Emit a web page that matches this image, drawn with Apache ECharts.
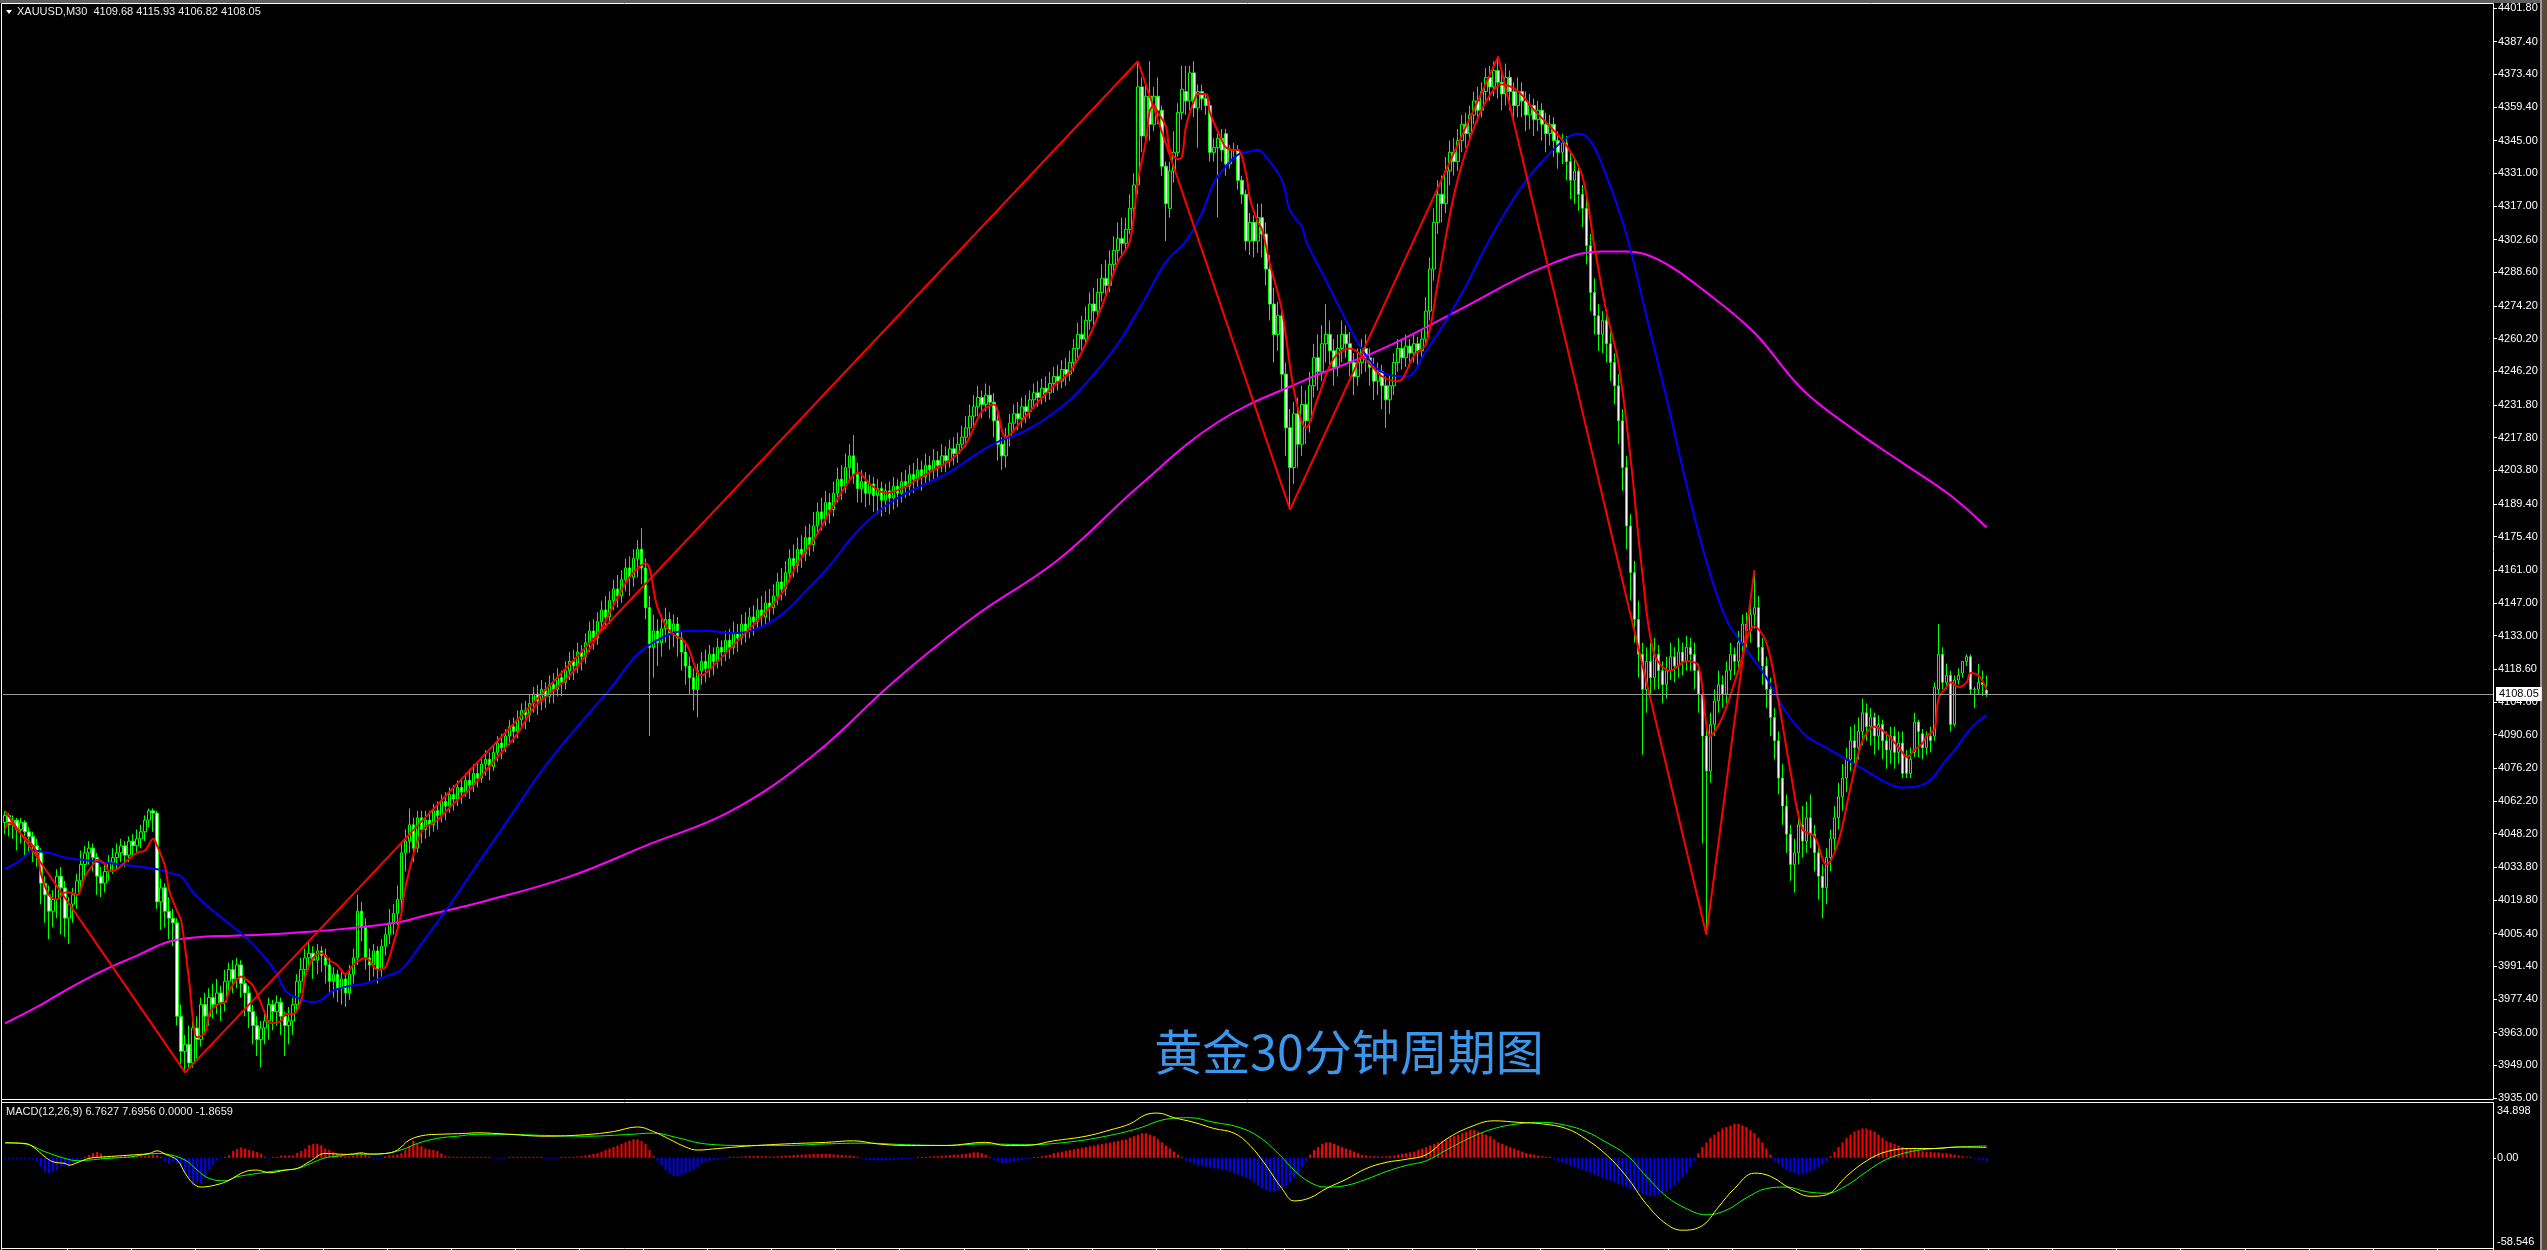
<!DOCTYPE html>
<html><head><meta charset="utf-8">
<script src="https://cdn.jsdelivr.net/npm/echarts@6/dist/echarts.min.js"></script>
<style>html,body{margin:0;padding:0;background:#000;overflow:hidden}#c{width:2547px;height:1250px}</style>
</head><body><div id="c"></div>
<script>
// [open, close, low, high] per M30 bar
const candles = [
/*0*/[4053,4056,4048,4058],[4056,4052,4047,4057],[4052,4054,4046,4056],[4054,4050,4041,4055],[4050,4053,4044,4055],
/*5*/[4053,4049,4038,4054],[4049,4047,4040,4051],[4047,4043,4036,4049],[4043,4040,4034,4046],[4040,4027,4018,4042],
/*10*/[4027,4022,4010,4030],[4022,4015,4003,4026],[4015,4020,4008,4024],[4020,4030,4012,4033],[4030,4025,4005,4034],
/*15*/[4025,4012,4004,4028],[4012,4018,4001,4021],[4018,4022,4010,4025],[4022,4028,4016,4031],[4028,4035,4024,4041],
/*20*/[4035,4040,4030,4043],[4040,4042,4035,4045],[4042,4038,4032,4044],[4038,4030,4022,4040],[4030,4027,4021,4034],
/*25*/[4027,4032,4023,4036],[4032,4036,4028,4039],[4036,4038,4031,4042],[4038,4040,4033,4044],[4040,4043,4036,4046],
/*30*/[4043,4039,4034,4045],[4039,4045,4036,4047],[4045,4043,4039,4048],[4043,4046,4040,4050],[4046,4049,4042,4052],
/*35*/[4049,4054,4045,4056],[4054,4058,4051,4059],[4058,4057,4049,4059],[4057,4019,4016,4058],[4019,4025,4007,4029],
/*40*/[4025,4015,4008,4027],[4015,4012,4003,4021],[4012,4010,4000,4016],[4010,3970,3966,4012],[3970,3955,3948,3975],
/*45*/[3955,3958,3946,3962],[3958,3950,3947,3966],[3950,3965,3948,3968],[3965,3960,3952,3970],[3960,3975,3957,3978],
/*50*/[3975,3970,3962,3980],[3970,3978,3966,3982],[3978,3975,3969,3984],[3975,3980,3971,3986],[3980,3976,3968,3983],
/*55*/[3976,3985,3972,3990],[3985,3990,3980,3993],[3990,3986,3980,3994],[3986,3992,3982,3995],[3992,3984,3978,3994],
/*60*/[3984,3980,3970,3987],[3980,3972,3965,3983],[3972,3966,3958,3975],[3966,3960,3953,3970],[3960,3965,3948,3968],
/*65*/[3965,3968,3958,3972],[3968,3975,3960,3978],[3975,3972,3964,3977],[3972,3976,3966,3979],[3976,3970,3962,3978],
/*70*/[3970,3966,3953,3972],[3966,3968,3958,3974],[3968,3975,3962,3978],[3975,3985,3972,3988],[3985,3990,3980,3995],
/*75*/[3990,3995,3986,3999],[3995,3997,3990,4002],[3997,3994,3986,4000],[3994,3998,3988,4001],[3998,3996,3989,4000],
/*80*/[3996,3992,3984,3999],[3992,3985,3980,3995],[3985,3988,3978,3991],[3988,3982,3976,3990],[3982,3986,3975,3989],
/*85*/[3986,3980,3974,3988],[3980,3988,3977,3992],[3988,3995,3984,3999],[3995,4015,3992,4022],[4015,4008,4002,4019],
/*90*/[4008,3995,3990,4012],[3995,3992,3985,3999],[3992,3998,3987,4001],[3998,3990,3984,4000],[3990,4000,3987,4003],
/*95*/[4000,4005,3996,4008],[4005,4010,4001,4016],[4010,4014,4005,4018],[4014,4020,4009,4026],[4020,4040,4016,4044],
/*100*/[4040,4045,4032,4050],[4045,4052,4040,4059],[4052,4042,4036,4055],[4042,4055,4040,4058],[4055,4050,4044,4058],
/*105*/[4050,4054,4046,4058],[4054,4052,4047,4058],[4052,4058,4049,4061],[4058,4056,4050,4062],[4056,4062,4053,4065],
/*110*/[4062,4060,4054,4066],[4060,4065,4057,4068],[4065,4063,4058,4069],[4063,4068,4060,4071],[4068,4066,4061,4072],
/*115*/[4066,4071,4064,4074],[4071,4069,4063,4076],[4069,4074,4066,4078],[4074,4072,4068,4079],[4072,4078,4070,4081],
/*120*/[4078,4080,4073,4084],[4080,4077,4071,4083],[4077,4083,4075,4086],[4083,4087,4079,4090],[4087,4085,4080,4091],
/*125*/[4085,4090,4083,4093],[4090,4094,4086,4097],[4094,4092,4087,4098],[4092,4097,4089,4101],[4097,4101,4094,4104],
/*130*/[4101,4099,4093,4105],[4099,4104,4096,4108],[4104,4108,4100,4111],[4108,4105,4099,4112],[4105,4110,4101,4114],
/*135*/[4110,4107,4102,4113],[4107,4112,4104,4116],[4112,4110,4104,4117],[4110,4115,4107,4119],[4115,4113,4107,4118],
/*140*/[4113,4118,4110,4122],[4118,4122,4114,4126],[4122,4120,4114,4127],[4120,4126,4117,4130],[4126,4124,4118,4129],
/*145*/[4124,4130,4121,4134],[4130,4135,4126,4139],[4135,4132,4127,4140],[4132,4139,4129,4143],[4139,4144,4135,4148],
/*150*/[4144,4141,4136,4150],[4141,4148,4138,4152],[4148,4153,4144,4157],[4153,4150,4145,4159],[4150,4157,4147,4161],
/*155*/[4157,4162,4152,4166],[4162,4158,4150,4167],[4158,4166,4154,4170],[4166,4170,4158,4174],[4170,4162,4155,4179],
/*160*/[4162,4145,4140,4166],[4145,4128,4090,4150],[4128,4135,4115,4142],[4135,4130,4120,4140],[4130,4136,4124,4142],
/*165*/[4136,4140,4130,4145],[4140,4134,4127,4143],[4134,4138,4128,4142],[4138,4132,4124,4141],[4132,4126,4118,4135],
/*170*/[4126,4120,4112,4130],[4120,4115,4108,4124],[4115,4110,4101,4119],[4110,4118,4098,4121],[4118,4122,4112,4126],
/*175*/[4122,4119,4113,4127],[4119,4125,4115,4129],[4125,4122,4116,4128],[4122,4128,4119,4132],[4128,4126,4120,4131],
/*180*/[4126,4131,4122,4135],[4131,4128,4123,4136],[4128,4134,4125,4139],[4134,4132,4126,4138],[4132,4138,4129,4142],
/*185*/[4138,4135,4130,4143],[4135,4141,4132,4145],[4141,4139,4133,4146],[4139,4144,4136,4149],[4144,4141,4137,4150],
/*190*/[4141,4147,4138,4152],[4147,4145,4139,4153],[4145,4150,4142,4155],[4150,4156,4146,4160],[4156,4153,4148,4162],
/*195*/[4153,4160,4150,4165],[4160,4166,4156,4170],[4166,4163,4158,4172],[4163,4170,4160,4175],[4170,4168,4162,4176],
/*200*/[4168,4175,4165,4180],[4175,4172,4167,4181],[4172,4180,4169,4186],[4180,4186,4176,4190],[4186,4183,4178,4192],
/*205*/[4183,4190,4180,4195],[4190,4187,4181,4194],[4187,4194,4184,4199],[4194,4200,4190,4205],[4200,4197,4191,4206],
/*210*/[4197,4205,4194,4211],[4205,4210,4200,4215],[4210,4202,4198,4219],[4202,4196,4190,4207],[4196,4199,4190,4204],
/*215*/[4199,4194,4188,4203],[4194,4198,4189,4202],[4198,4193,4186,4201],[4193,4196,4185,4200],[4196,4191,4184,4199],
/*220*/[4191,4195,4186,4198],[4195,4192,4185,4199],[4192,4197,4187,4201],[4197,4194,4188,4200],[4194,4199,4190,4203],
/*225*/[4199,4197,4192,4204],[4197,4202,4193,4206],[4202,4200,4194,4207],[4200,4204,4196,4209],[4204,4201,4195,4208],
/*230*/[4201,4206,4198,4211],[4206,4204,4199,4210],[4204,4208,4200,4213],[4208,4206,4201,4212],[4206,4210,4203,4215],
/*235*/[4210,4208,4203,4214],[4208,4213,4205,4217],[4213,4211,4206,4218],[4211,4215,4207,4220],[4215,4218,4212,4223],
/*240*/[4218,4222,4214,4227],[4222,4227,4218,4232],[4227,4231,4223,4236],[4231,4235,4227,4240],[4235,4232,4226,4238],
/*245*/[4232,4236,4229,4241],[4236,4233,4226,4240],[4233,4225,4218,4237],[4225,4215,4208,4228],[4215,4210,4204,4218],
/*250*/[4210,4218,4205,4222],[4218,4224,4214,4228],[4224,4228,4220,4232],[4228,4226,4221,4233],[4226,4231,4222,4235],
/*255*/[4231,4229,4224,4236],[4229,4234,4226,4238],[4234,4237,4230,4241],[4237,4235,4231,4242],[4235,4239,4232,4243],
/*260*/[4239,4237,4233,4244],[4237,4241,4234,4246],[4241,4244,4237,4248],[4244,4242,4238,4249],[4242,4247,4239,4251],
/*265*/[4247,4245,4240,4252],[4245,4250,4242,4255],[4250,4256,4246,4260],[4256,4262,4252,4267],[4262,4260,4255,4270],
/*270*/[4260,4268,4257,4274],[4268,4275,4264,4280],[4275,4272,4266,4282],[4272,4280,4269,4286],[4280,4286,4276,4292],
/*275*/[4286,4283,4278,4294],[4283,4292,4280,4298],[4292,4298,4288,4304],[4298,4303,4292,4310],[4303,4301,4295,4312],
/*280*/[4301,4307,4298,4312],[4307,4316,4305,4322],[4316,4326,4312,4331],[4326,4368,4322,4379],[4368,4347,4340,4372],
/*285*/[4347,4364,4343,4369],[4364,4352,4345,4379],[4352,4364,4349,4368],[4364,4358,4352,4372],[4358,4334,4330,4360],
/*290*/[4334,4318,4302,4336],[4316,4332,4312,4336],[4332,4340,4327,4349],[4340,4357,4338,4361],[4357,4367,4354,4377],
/*295*/[4366,4362,4356,4377],[4362,4374,4358,4377],[4374,4359,4355,4379],[4359,4366,4342,4369],[4366,4363,4358,4369],
/*300*/[4363,4360,4356,4365],[4360,4340,4336,4362],[4340,4342,4336,4346],[4342,4346,4312,4348],[4346,4341,4336,4350],
/*305*/[4348,4335,4330,4350],[4335,4341,4333,4343],[4341,4341,4338,4344],[4341,4328,4324,4343],[4328,4322,4318,4330],
/*310*/[4322,4302,4298,4324],[4302,4310,4296,4314],[4310,4302,4295,4313],[4302,4312,4297,4318],[4312,4305,4295,4318],
/*315*/[4305,4290,4283,4310],[4290,4275,4268,4296],[4275,4262,4250,4282],[4262,4270,4255,4276],[4270,4245,4238,4274],
/*320*/[4245,4222,4210,4250],[4222,4205,4187,4230],[4205,4228,4198,4233],[4228,4215,4205,4235],[4215,4232,4210,4240],
/*325*/[4232,4225,4215,4238],[4225,4240,4220,4246],[4240,4252,4235,4258],[4252,4246,4238,4262],[4246,4258,4242,4266],
/*330*/[4258,4262,4250,4275],[4262,4255,4248,4268],[4255,4248,4240,4260],[4248,4256,4244,4262],[4256,4262,4250,4268],
/*335*/[4262,4258,4252,4266],[4258,4250,4244,4263],[4250,4244,4236,4254],[4244,4250,4240,4256],[4250,4256,4245,4260],
/*340*/[4256,4252,4246,4262],[4252,4248,4240,4256],[4248,4242,4234,4252],[4242,4246,4236,4250],[4246,4240,4230,4249],
/*345*/[4240,4234,4222,4244],[4234,4240,4228,4245],[4240,4250,4236,4254],[4250,4256,4246,4260],[4256,4252,4247,4260],
/*350*/[4252,4257,4248,4262],[4257,4254,4248,4260],[4254,4258,4250,4262],[4258,4255,4249,4261],[4255,4260,4251,4264],
/*355*/[4260,4272,4257,4278],[4272,4290,4268,4295],[4290,4310,4285,4316],[4310,4322,4305,4328],[4322,4318,4310,4330],
/*360*/[4318,4332,4314,4338],[4332,4340,4326,4345],[4340,4336,4330,4346],[4336,4345,4332,4350],[4345,4352,4340,4356],
/*365*/[4352,4348,4342,4357],[4348,4356,4345,4360],[4356,4362,4352,4366],[4362,4358,4353,4368],[4358,4366,4355,4370],
/*370*/[4366,4372,4362,4376],[4372,4368,4362,4377],[4368,4375,4364,4379],[4375,4370,4363,4381],[4370,4365,4358,4376],
/*375*/[4365,4372,4360,4378],[4372,4366,4358,4375],[4366,4360,4353,4370],[4360,4366,4355,4372],[4366,4362,4355,4370],
/*380*/[4362,4356,4349,4366],[4356,4360,4350,4365],[4360,4354,4347,4363],[4354,4358,4349,4362],[4358,4352,4345,4361],
/*385*/[4352,4348,4340,4357],[4348,4352,4343,4356],[4352,4345,4338,4355],[4345,4340,4333,4349],[4340,4344,4335,4348],
/*390*/[4344,4336,4328,4347],[4336,4328,4320,4340],[4328,4332,4318,4338],[4332,4322,4315,4335],[4322,4316,4308,4326],
/*395*/[4316,4300,4292,4320],[4300,4280,4272,4305],[4280,4270,4262,4286],[4270,4262,4255,4275],[4262,4268,4254,4272],
/*400*/[4268,4258,4250,4271],[4258,4250,4242,4263],[4250,4240,4232,4254],[4240,4225,4215,4245],[4225,4205,4195,4230],
/*405*/[4205,4180,4170,4210],[4180,4160,4148,4185],[4160,4140,4130,4165],[4140,4125,4115,4148],[4125,4110,4082,4130],
/*410*/[4110,4122,4100,4128],[4122,4115,4108,4130],[4115,4125,4110,4132],[4125,4118,4110,4129],[4118,4112,4104,4122],
/*415*/[4112,4118,4106,4124],[4118,4124,4114,4130],[4124,4120,4113,4128],[4120,4126,4115,4132],[4126,4122,4116,4130],
/*420*/[4122,4128,4118,4133],[4128,4125,4118,4132],[4125,4118,4110,4130],[4118,4108,4100,4121],[4108,4090,4044,4112],
/*425*/[4090,4075,4005,4095],[4075,4095,4070,4100],[4095,4105,4090,4110],[4105,4112,4100,4118],[4112,4108,4102,4116],
/*430*/[4108,4118,4104,4122],[4118,4125,4114,4130],[4125,4122,4116,4128],[4122,4130,4118,4135],[4130,4138,4126,4142],
/*435*/[4138,4135,4128,4143],[4135,4142,4130,4148],[4142,4145,4136,4161],[4145,4128,4122,4150],[4128,4120,4112,4132],
/*440*/[4120,4110,4102,4124],[4110,4098,4090,4115],[4098,4088,4080,4102],[4088,4072,4065,4092],[4072,4060,4052,4078],
/*445*/[4060,4048,4040,4065],[4048,4035,4028,4052],[4035,4040,4023,4046],[4040,4052,4035,4058],[4052,4045,4038,4060],
/*450*/[4045,4055,4040,4062],[4055,4048,4042,4065],[4048,4040,4032,4052],[4040,4030,4020,4044],[4030,4025,4012,4035],
/*455*/[4025,4038,4018,4042],[4038,4046,4032,4050],[4046,4055,4040,4060],[4055,4064,4050,4070],[4064,4072,4058,4078],
/*460*/[4072,4080,4066,4085],[4080,4088,4075,4094],[4088,4085,4078,4095],[4085,4092,4080,4098],[4092,4100,4086,4106],
/*465*/[4100,4094,4088,4104],[4094,4098,4086,4102],[4098,4090,4082,4100],[4090,4095,4084,4099],[4095,4088,4080,4097],
/*470*/[4088,4084,4076,4092],[4084,4090,4078,4094],[4090,4083,4076,4094],[4083,4087,4078,4092],[4087,4074,4072,4092],
/*475*/[4081,4074,4072,4084],[4074,4080,4072,4085],[4083,4096,4081,4100],[4096,4092,4081,4097],[4091,4085,4080,4093],
/*480*/[4085,4090,4082,4092],[4090,4088,4083,4094],[4090,4111,4088,4113],[4110,4125,4108,4138],[4125,4113,4110,4128],
/*485*/[4113,4116,4110,4121],[4116,4095,4092,4118],[4095,4114,4094,4116],[4114,4116,4112,4119],[4117,4122,4115,4122],
/*490*/[4122,4124,4120,4125],[4124,4110,4108,4125],[4110,4110,4102,4111],[4110,4113,4108,4121],[4113,4112,4107,4118],
/*495*/[4109.68,4108.05,4106.82,4115.93]
];
// [bar, value] readings of the indicator lines
const fastMA = [[0,4050],[1,4053],[4,4048],[6,4045],[8,4040],[9,4031],[11,4022],[13,4020],[15,4023],[16,4023],[18,4022],[20,4030],[22,4035],[23,4037],[25,4035],[26,4032],[28,4033],[30,4036],[33,4040],[35,4041],[37,4046],[38,4043],[40,4034],[41,4024],[43,4015],[44,4011],[46,3985],[47,3968],[48,3961],[50,3963],[51,3971],[53,3975],[55,3976],[56,3981],[59,3987],[60,3986],[62,3983],[65,3971],[66,3967],[69,3968],[70,3971],[72,3971],[74,3977],[75,3987],[77,3995],[79,3997],[81,3994],[83,3992],[85,3988],[87,3992],[90,3995],[91,3994],[93,3990],[95,3991],[97,4001],[99,4014],[100,4025],[104,4049],[108,4054],[112,4061],[116,4067],[120,4075],[124,4083],[128,4091],[132,4102],[136,4108],[140,4114],[144,4122],[148,4133],[152,4146],[156,4158],[160,4164],[163,4145],[166,4135],[170,4130],[174,4116],[178,4122],[182,4129],[186,4136],[190,4143],[194,4151],[198,4164],[202,4174],[206,4186],[210,4197],[213,4203],[216,4198],[220,4194],[224,4196],[228,4200],[232,4204],[236,4208],[240,4215],[244,4229],[247,4232],[250,4218],[254,4225],[258,4233],[262,4240],[266,4246],[270,4258],[274,4274],[278,4293],[281,4302],[283,4328],[285,4345],[286,4358],[287,4360],[288,4357],[290,4351],[291,4341],[293,4337],[294,4338],[295,4351],[297,4362],[298,4365],[300,4365],[301,4357],[304,4345],[305,4342],[307,4341],[308,4341],[310,4331],[311,4320],[313,4310],[314,4307],[316,4292],[319,4272],[322,4238],[325,4222],[328,4235],[332,4252],[336,4256],[340,4251],[344,4244],[348,4242],[352,4253],[355,4258],[358,4285],[362,4322],[366,4346],[370,4362],[374,4369],[378,4366],[382,4358],[386,4351],[390,4343],[394,4330],[397,4300],[400,4272],[403,4250],[406,4210],[409,4160],[412,4125],[416,4118],[420,4122],[423,4120],[426,4090],[429,4098],[433,4118],[437,4137],[440,4130],[443,4105],[446,4075],[449,4050],[452,4047],[455,4035],[458,4045],[461,4068],[464,4088],[467,4094],[470,4091],[474,4083],[475,4081],[477,4084],[479,4087],[480,4090],[482,4093],[483,4106],[485,4111],[486,4113],[488,4111],[490,4113],[491,4117],[493,4116],[495,4110]];
const midMA = [[0,4033],[4,4037],[7,4041],[11,4040],[15,4038],[19,4037],[24,4036],[29,4035],[34,4034],[38,4033],[42,4031],[44,4030],[47,4023],[50,4018],[55,4011],[60,4004],[64,3997],[68,3988],[70,3981],[73,3978],[77,3976],[79,3977],[82,3981],[86,3983],[90,3984],[95,3987],[99,3990],[104,4001],[110,4015],[116,4030],[122,4045],[128,4060],[134,4075],[140,4088],[146,4100],[152,4112],[158,4125],[164,4132],[170,4135],[176,4135],[182,4134],[188,4136],[194,4142],[200,4152],[206,4163],[212,4176],[218,4186],[224,4193],[230,4198],[236,4203],[242,4210],[248,4216],[254,4220],[260,4226],[266,4234],[272,4245],[278,4258],[284,4275],[290,4293],[295,4302],[299,4314],[302,4327],[305,4334],[308,4339],[310,4340],[313,4341],[315,4338],[319,4328],[321,4315],[324,4308],[325,4302],[330,4285],[335,4268],[340,4253],[345,4245],[350,4244],[355,4255],[360,4268],[365,4283],[370,4300],[375,4315],[380,4328],[385,4338],[390,4346],[393,4348],[396,4345],[400,4330],[405,4305],[410,4270],[415,4235],[420,4198],[425,4165],[430,4140],[435,4127],[440,4115],[445,4100],[450,4090],[455,4085],[460,4080],[465,4075],[470,4070],[474,4068],[480,4070],[485,4080],[487,4084],[490,4091],[492,4095],[495,4099]];
const slowMA = [[0,3967],[8,3974],[16,3982],[25,3990],[33,3996],[41,4002],[49,4004],[57,4004.5],[65,4005],[74,4006],[82,4007],[90,4008.4],[99,4010.5],[104,4012.7],[120,4019.4],[141,4029.8],[161,4043.7],[181,4057.6],[202,4081.9],[222,4113.3],[242,4141],[263,4165.4],[283,4196.7],[303,4224.5],[324,4241.9],[344,4255.8],[364,4273.2],[384,4290.6],[399,4297.5],[405,4297.5],[413,4294],[425,4280],[437,4262.7],[449,4238.4],[462,4221],[474,4207],[486,4193],[495,4179.3]];
const zigzag = [[0,4058],[45,3946],[283,4379],[321,4187],[373,4381],[425,4005],[437,4161]];
const macdLine = [[0,9.7],[5,9.3],[7,7.1],[10,0.6],[12,-2.6],[15,-3.7],[16,-4.8],[18,-3.2],[21,-0.4],[25,0.6],[31,1.7],[36,2.8],[38,4.5],[40,2.4],[43,-1.5],[45,-10],[47,-16.7],[49,-19],[51,-18.5],[54,-16.7],[56,-14.5],[60,-9],[63,-8],[66,-9.7],[70,-8],[73,-6.9],[76,-2.6],[80,2.8],[83,2.4],[86,2.2],[89,3.2],[91,2.4],[95,2.8],[98,5],[101,11.5],[105,14.7],[108,15.2],[115,15.8],[118,16.2],[125,15.4],[135,14],[145,15],[152,17],[158,20],[162,17],[166,12],[170,7],[173,5],[178,6],[185,7.5],[195,9],[205,10],[212,11],[218,9],[225,8],[235,8],[245,10],[250,8],[255,8],[262,11],[270,14],[276,18],[281,22],[285,28],[288,29],[292,26],[297,23],[302,19],[307,16],[311,8],[315,-5],[319,-20],[322,-28],[326,-26],[330,-20],[335,-14],[340,-7],[345,-3],[350,-1],[355,2],[360,12],[366,20],[372,24],[378,23],[384,22],[390,19],[395,12],[400,2],[405,-12],[410,-30],[415,-43],[419,-47],[424,-44],[428,-32],[432,-20],[437,-10],[441,-12],[446,-20],[451,-25],[455,-24],[460,-12],[465,-2],[470,4],[476,6],[482,6],[488,7],[495,6.7627]];
const signalLine = [[0,9.7],[5,9],[10,3.9],[15,-0.4],[18,-1.9],[21,-1.5],[25,-0.5],[31,0.5],[38,2.8],[40,2.5],[45,-1.5],[48,-8],[51,-13.4],[55,-14.9],[58,-12.3],[63,-10.2],[68,-8.4],[73,-7],[76,-4.1],[80,0],[83,1],[87,2.4],[91,2.4],[95,2.8],[100,6],[103,9.3],[108,12.6],[113,14],[118,15.2],[125,15.2],[135,14.5],[145,14],[155,15],[162,16],[168,13],[175,9],[185,8],[195,8],[205,9],[215,9.5],[225,8.5],[235,8],[245,9],[255,8.5],[265,10],[275,14],[283,19],[290,25],[296,26],[302,23],[308,20],[313,14],[318,3],[322,-8],[326,-16],[330,-19],[335,-18],[340,-14],[345,-9],[350,-5],[355,-2],[360,5],[366,13],[372,19],[378,22],[384,23],[390,21],[395,17],[400,10],[405,2],[410,-12],[415,-25],[420,-33],[425,-37],[430,-34],[435,-26],[440,-20],[445,-19],[450,-22],[455,-23],[460,-18],[465,-9],[470,-1],[476,4],[482,6],[488,7],[495,7.6956]];
const histogram = [
-0.5,-0.5,-0.5,-0.5,-0.5,-0.5,-0.5,-0.5,
-2.6,-5.8,-9,-10,-9,-8,-5.4,-5,-5.8,-3,-2,-0.4,
0.3,1.7,3.2,3.7,2.8,1,
0.6,0.8,0.6,0.8,1,0.8,1,0.8,1,1,
1.5,2,1.5,0.5,
-2.6,-4,-2.6,-4,-5.8,-9,-13.4,-17.7,-15.5,-16.7,-13.4,-8,-4.8,-1.5,
-0.4,0.5,1.7,4.5,5.8,6.7,6,5,4.5,3.7,2.4,
0.3,-0.3,0.3,0.3,1.5,1.5,1.5,1.5,3.2,
4.5,6,8.2,8.9,8.9,8.2,6,5,3.9,2.8,
1.5,1,1,1.5,2.5,3,2.5,1,-0.5,-0.5,-0.3,
1,1.5,1.5,2,3,
5,8,11,9,7.5,6,5.5,5,4.5,2.8,
1,0.8,0.6,0.5,0.5,0.5,0.5,0.4,0.3,0.3,0.2,0.2,
-0.4,-0.4,-0.4,-0.4,
0.3,0.3,0.5,0.5,0.5,0.3,0.3,0.2,0.2,-0.2,-0.2,-0.3,-0.2,0.2,0.3,0.5,0.6,0.8,1,1.5,
2,2.5,3,4,5,6,7,8,9,10,11,12,12,11,9,
5,1,-2,-5,-8,-10,-12,-12,-11,-10,-9,-8,-6,-4,-3,
-2,-1.5,-1,-0.5,-0.3,0.3,0.5,0.5,0.8,1,1,1.2,1.2,1,1,0.8,0.8,1,1.2,1.5,
1.5,1.8,2,2,2.2,2.2,2.5,2.5,2.5,2.5,2.5,2.2,2,1.8,1.5,1.5,1.2,0.5,-0.5,-1,
-1.5,-1.5,-1.8,-1.8,-1.5,-1.5,-1.2,-1,-1,-0.8,-0.5,-0.3,0.3,0.5,0.5,0.8,1,1.2,1.5,1.5,1.8,2,2,2.2,2.5,
3,3.5,3.5,3,2,0.5,-1,-2.5,-3.5,-3.5,-3,-2.5,-2,-1.5,-1,-0.5,0.3,0.5,
1,1.5,2,3,3.5,4,4.5,5,5.5,6,6.5,7,7.5,8,8.5,9,9.5,10,10.5,11,11.5,12,
13,14,15,16,16,15,14,12,10,8,6,4,2,0,-2,
-3,-4,-5,-5,-6,-6,-7,-7,-8,-8,-9,-10,-11,-12,-13,-14,-16,-18,-20,-21,-22,-22,-21,-20,-18,-16,
-13,-10,-6,-2,2,5,7,9,10,10,9,8,7,6,5,4,3,2,1.5,
1,1,0.8,0.8,1,1.2,1.5,2,2.5,3,3.5,4,5,6,7,
8,9,10,11,12,13,14,15,16,17,18,18,17,16,15,14,12,10,9,8,
7,6,5,4,3,2.5,2,1.5,1,0.5,0,-1,-2,-3,-4,-5,-6,
-7,-8,-9,-10,-11,-12,-13,-14,-15,-16,-17,-18,-19,-20,-21,-22,-23,-24,-25,-25,-24,-23,-22,-20,-18,-16,-13,-10,
-6,-2,3,7,10,13,15,17,19,20,21,22,22,21,20,18,16,13,10,6,2,
-2,-4,-6,-8,-9,-10,-11,-11,-10,-9,-8,-6,-4,-2,1,
4,7,10,13,15,17,18,19,19,18,17,15,13,11,10,9,8,7,6,
6,5.5,5,4.5,4,4,3.5,3.5,3,3,2.5,2,1.5,1,0.5,0.3,-0.5,-1,-1.5,-1.8659
];
const priceTicks = [4401.8,4387.4,4373.4,4359.4,4345.0,4331.0,4317.0,4302.6,4288.6,4274.2,4260.2,4246.2,4231.8,4217.8,4203.8,4189.4,4175.4,4161.0,4147.0,4133.0,4118.6,4104.6,4090.6,4076.2,4062.2,4048.2,4033.8,4019.8,4005.4,3991.4,3977.4,3963.0,3949.0,3935.0];
const macdTicks = [34.898, 0, -58.546];
const macdTickText = ['34.898', '0.00', '-58.546'];
const lastPrice = 4108.05;
const headerText = 'XAUUSD,M30  4109.68 4115.93 4106.82 4108.05';
const macdText = 'MACD(12,26,9) 6.7627 7.6956 0.0000 -1.8659';
const titleText = '黄金30分钟周期图';
const slotCount = 622;

const cats = Array.from({length: slotCount}, (_, i) => String(i));
const FONT = "'Liberation Sans Narrow','Liberation Sans',Arial,sans-serif";
const chart = echarts.init(document.getElementById('c'), null, {renderer: 'canvas'});

const option = {
  backgroundColor: '#000000',
  animation: false,
  grid: [
    {left: 3, top: 8, width: 2490, height: 1090},
    {left: 3, top: 1104, width: 2490, height: 144}
  ],
  xAxis: [
    {type: 'category', gridIndex: 0, data: cats, boundaryGap: true, show: false},
    {type: 'category', gridIndex: 1, data: cats, boundaryGap: true, position: 'bottom',
     axisLine: {show: false, onZero: false},
     axisTick: {show: true, inside: false, length: 3, interval: (i) => i > 0 && i % 16 === 0, lineStyle: {color: '#ffffff'}},
     axisLabel: {show: false}, splitLine: {show: false}}
  ],
  yAxis: [
    {type: 'value', gridIndex: 0, position: 'right', min: 3935, max: 4401.8,
     axisLine: {show: false}, splitLine: {show: false},
     axisTick: {show: true, length: 4, lineStyle: {color: '#ffffff'}, customValues: priceTicks},
     axisLabel: {show: true, customValues: priceTicks, formatter: (v) => v.toFixed(2), color: '#ffffff', fontSize: 11, fontFamily: FONT, margin: 5}},
    {type: 'value', gridIndex: 1, position: 'right', min: -58.546, max: 34.898,
     axisLine: {show: false}, splitLine: {show: false},
     axisTick: {show: true, length: 3, lineStyle: {color: '#ffffff'}, customValues: [0]},
     axisLabel: {show: false}}
  ],
  series: [
    {type: 'candlestick', xAxisIndex: 0, yAxisIndex: 0, data: candles, barWidth: 3,
     itemStyle: {color: '#000000', color0: '#ffffff', borderColor: '#00ff00', borderColor0: '#00ff00', borderWidth: 1},
     markLine: {silent: true, symbol: 'none', animation: false,
       data: [{yAxis: lastPrice}],
       lineStyle: {color: '#9a9a9a', width: 1, type: 'solid'},
       label: {show: true, position: 'end', distance: 3, formatter: () => lastPrice.toFixed(2), color: '#000000', backgroundColor: '#ffffff', padding: [2, 3, 1, 3], fontSize: 11, fontFamily: FONT}}},
    {type: 'line', xAxisIndex: 0, yAxisIndex: 0, data: slowMA, smooth: 0.4, showSymbol: false, lineStyle: {color: '#ff00ff', width: 2}},
    {type: 'line', xAxisIndex: 0, yAxisIndex: 0, data: midMA, smooth: 0.4, showSymbol: false, lineStyle: {color: '#0000ff', width: 2}},
    {type: 'line', xAxisIndex: 0, yAxisIndex: 0, data: fastMA, smooth: 0.35, showSymbol: false, lineStyle: {color: '#ff0000', width: 2}},
    {type: 'line', xAxisIndex: 0, yAxisIndex: 0, data: zigzag, smooth: false, showSymbol: false, lineStyle: {color: '#ff0000', width: 2}},
    {type: 'bar', xAxisIndex: 1, yAxisIndex: 1, data: histogram, barWidth: 2, barMinHeight: 1,
     itemStyle: {color: (p) => p.value >= 0 ? '#ff0000' : '#0000ff'}},
    {type: 'line', xAxisIndex: 1, yAxisIndex: 1, data: signalLine, smooth: 0.4, showSymbol: false, lineStyle: {color: '#00ff00', width: 1}},
    {type: 'line', xAxisIndex: 1, yAxisIndex: 1, data: macdLine, smooth: 0.4, showSymbol: false, lineStyle: {color: '#ffff00', width: 1}}
  ]
};
chart.setOption(option);

// frame, header texts and MACD scale labels
const W = 2547;
const g = [
  {type: 'rect', shape: {x: 0, y: 0, width: W, height: 3}, style: {fill: '#5f5f5f'}, silent: true},
  {type: 'rect', shape: {x: 2540, y: 0, width: 2, height: 1250}, style: {fill: '#9a9a9a'}, silent: true},
  {type: 'rect', shape: {x: 2542, y: 0, width: 5, height: 1250}, style: {fill: '#5a4a3c'}, silent: true},
  {type: 'polyline', shape: {points: [[1.5, 1250], [1.5, 3.5], [2493.5, 3.5], [2493.5, 1099.5], [1.5, 1099.5]]}, style: {stroke: '#ffffff', lineWidth: 1, fill: null}, silent: true},
  {type: 'polyline', shape: {points: [[1.5, 1102.5], [2493.5, 1102.5], [2493.5, 1248.5], [1.5, 1248.5]]}, style: {stroke: '#ffffff', lineWidth: 1, fill: null}, silent: true},
  {type: 'polygon', shape: {points: [[6, 10], [12, 10], [9, 14]]}, style: {fill: '#ffffff'}, silent: true},
  {type: 'text', x: 17, y: 12, style: {text: headerText, fill: '#ececec', font: '11px ' + FONT, verticalAlign: 'middle'}, silent: true},
  {type: 'text', x: 6, y: 1112, style: {text: macdText, fill: '#ececec', font: '11px ' + FONT, verticalAlign: 'middle'}, silent: true},
  {type: 'text', x: 1349, y: 1052, style: {text: titleText, fill: '#3c96eb', font: "48px 'Noto Sans CJK SC', sans-serif", align: 'center', verticalAlign: 'middle'}, silent: true}
];
macdTicks.forEach((v, k) => {
  const py = chart.convertToPixel({yAxisIndex: 1}, v);
  let y = py, va = 'middle';
  if (k === 0) { va = 'top'; y = py + 1; }
  if (k === macdTicks.length - 1) { va = 'bottom'; y = py - 1; }
  g.push({type: 'text', x: 2497, y: y, style: {text: macdTickText[k], fill: '#ffffff', font: '11px ' + FONT, verticalAlign: va}, silent: true});
});
chart.setOption({graphic: {elements: g}});
</script>
</body></html>
